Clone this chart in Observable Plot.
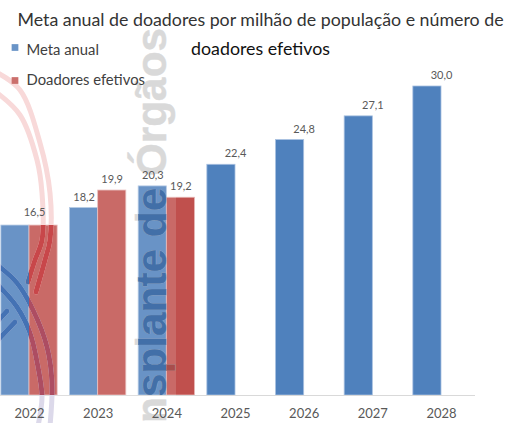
<!DOCTYPE html>
<html><head><meta charset="utf-8">
<script src="https://cdn.jsdelivr.net/npm/d3@7"></script>
<script src="https://cdn.jsdelivr.net/npm/@observablehq/plot@0.6"></script>
<style>html,body{margin:0;padding:0;background:#fff;overflow:hidden}svg{display:block}</style>
</head><body><div id="chart"></div>
<script>
const years = ["2022","2023","2024","2025","2026","2027","2028"];
const metaYears = ["2022","2023","2024","2025","2026","2027","2028"];
const metaValues = [16.5,18.2,20.3,22.4,24.8,27.1,30.0];
const efetivosYears = ["2022","2023","2024"];
const efetivosValues = [16.5,19.9,19.2];
const seriesNames = ["Meta anual","Doadores efetivos"];
const titleLines = ["Meta anual de doadores por milhão de população e número de","doadores efetivos"];
const watermarkText = "nsplante de Órgãos";

const meta = metaYears.map((year,i)=>({year,value:metaValues[i]}));
const efetivos = efetivosYears.map((year,i)=>({year,value:efetivosValues[i]}));
const fmt = v => v.toFixed(1).replace(".",",");
const BLUE="#4F81BD", RED="#C0504D";
const FONT="Lato, 'Open Sans', sans-serif";

const redArcs=[[[-4,72],[20,90],[40,143],[50,193],[50,240],[45,260],[36,292]],
               [[-4,92],[20,115],[37,160],[42,193],[42,240],[35,260],[28,282]]];
const blueArcs=[[[-4,264],[17,283],[33,310],[47,347],[52,383],[50,426]],
                [[-4,283],[17,307],[30,333],[38,367],[42,397],[38,426]],
                [[-4,323],[7,311]],[[-4,342],[15,322]]];

function watermark(index,{x,y}){
  const g=d3.create("svg:g");
  const defs=g.append("defs");
  const half=x.bandwidth()/2;
  const rectClip=(id,rows,left)=>{
    const c=defs.append("clipPath").attr("id",id);
    rows.forEach(d=>{
      const x0=x(d.year)+(left?0:half);
      c.append("rect").attr("x",x0).attr("y",y(d.value)).attr("width",half).attr("height",y(0)-y(d.value));
    });
  };
  rectClip("cb",meta.filter(d=>efetivosYears.includes(d.year)),true);
  rectClip("cr",efetivos,false);
  defs.append("clipPath").attr("id","img").append("rect").attr("x",0).attr("y",0).attr("width",176).attr("height",423);
  const root=g.append("g").attr("clip-path","url(#img)");
  root.append("rect").attr("x",0).attr("y",0).attr("width",176).attr("height",423).attr("fill","#fff").attr("fill-opacity",0.15);
  const line=d3.line().curve(d3.curveCatmullRom);
  const arcs=(p,set,color)=>set.forEach(a=>p.append("path").attr("d",line(a)).attr("fill","none").attr("stroke",color).attr("stroke-width",5).attr("stroke-linecap","round"));
  const word=(p,color)=>p.append("text").text(watermarkText)
    .attr("transform","translate(166,28) rotate(-90)").attr("text-anchor","end")
    .attr("font-family","'Liberation Sans',sans-serif").attr("font-weight",700).attr("font-size",42.3)
    .attr("fill",color).attr("stroke",color).attr("stroke-width",0.5);
  word(root,"#d9d9d9");
  arcs(root,redArcs,"#f8d9d9");
  arcs(root,blueArcs,"#dcd9ea");
  const b=root.append("g").attr("clip-path","url(#cb)");
  word(b,"#426fa8"); arcs(b,redArcs,"#4a6ea8"); arcs(b,blueArcs,"#4472b4");
  const r=root.append("g").attr("clip-path","url(#cr)");
  word(r,"#a84e4c"); arcs(r,redArcs,"#c8474a"); arcs(r,blueArcs,"#ad4d62");
  return g.node();
}

const labelStyle={fontSize:11,fill:"#595959",text:d=>fmt(d.value)};
const chart = Plot.plot({
  width:506,height:423,marginLeft:0,marginRight:31,marginTop:0,marginBottom:28,
  style:{fontFamily:FONT,background:"#fff",overflow:"hidden"},
  x:{domain:years,range:[-5.33,475.33],paddingInner:0.18,paddingOuter:0.09,round:false,label:null,tickSize:0},
  y:{domain:[0,30],range:[395,86],axis:null},
  marks:[
    Plot.barY(meta,{x:"year",y:"value",fill:BLUE,stroke:"#a9c1e0",strokeWidth:0.8,insetRight:28.15}),
    Plot.barY(efetivos,{x:"year",y:"value",fill:RED,stroke:"#e6b7b6",strokeWidth:0.8,insetLeft:28.15}),
    Plot.ruleY([0],{stroke:"#d9d9d9",strokeWidth:1.2}),
    watermark,
    Plot.axisX({tickSize:0,tickPadding:13,fontSize:13,color:"#595959",label:null}),
    Plot.text(meta,{x:"year",y:"value",dx:-14,dy:-11,filter:d=>d.year==="2023"||d.year==="2024",...labelStyle}),
    Plot.text(meta,{x:"year",y:"value",dy:-11,filter:d=>+d.year>=2025,...labelStyle}),
    Plot.text(efetivos,{x:"year",y:"value",dx:14,dy:-11,filter:d=>d.year!=="2022",...labelStyle}),
    Plot.text(efetivos,{x:"year",y:"value",dx:5,dy:-13,filter:d=>d.year==="2022",...labelStyle}),
    Plot.text([titleLines[0]],{text:d=>d,frameAnchor:"top-left",lineAnchor:"middle",dx:260,dy:20,textAnchor:"middle",fontSize:17.8,fill:"#333"}),
    Plot.text([titleLines[1]],{text:d=>d,frameAnchor:"top-left",lineAnchor:"middle",dx:260,dy:49,textAnchor:"middle",fontSize:17.8,fill:"#111"}),
    Plot.dot([seriesNames[0]],{frameAnchor:"top-left",dx:14.5,dy:47,symbol:"square",r:3.8,fill:"#6994C7"}),
    Plot.dot([seriesNames[1]],{frameAnchor:"top-left",dx:14.5,dy:80,symbol:"square",r:3.8,fill:"#CB6F6C"}),
    Plot.text([seriesNames[0]],{text:d=>d,frameAnchor:"top-left",lineAnchor:"middle",dx:26,dy:50,textAnchor:"start",fontSize:14.8,fill:"#404040"}),
    Plot.text([seriesNames[1]],{text:d=>d,frameAnchor:"top-left",lineAnchor:"middle",dx:26,dy:80,textAnchor:"start",fontSize:14.8,fill:"#404040"})
  ]
});
document.getElementById("chart").append(chart);
</script></body></html>
